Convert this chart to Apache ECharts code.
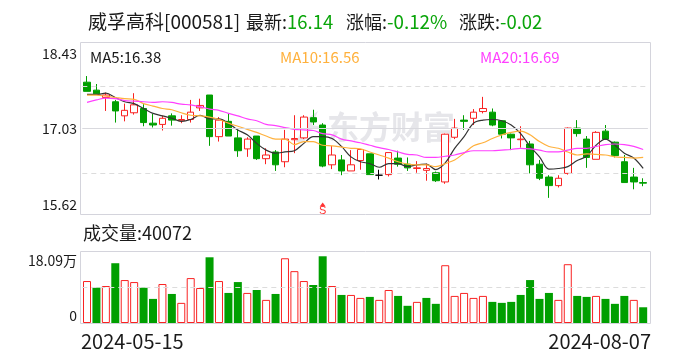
<!DOCTYPE html>
<html><head><meta charset="utf-8">
<script src="https://cdn.jsdelivr.net/npm/echarts@6/dist/echarts.min.js"></script>
<style>html,body{margin:0;padding:0;background:#fff}#c{width:688px;height:360px}</style>
</head><body><div id="c"></div>
<script>
const dates = ['2024-05-15','2024-05-16','2024-05-17','2024-05-20','2024-05-21','2024-05-22','2024-05-23','2024-05-24','2024-05-27','2024-05-28','2024-05-29','2024-05-30','2024-05-31','2024-06-03','2024-06-04','2024-06-05','2024-06-06','2024-06-07','2024-06-11','2024-06-12','2024-06-13','2024-06-14','2024-06-17','2024-06-18','2024-06-19','2024-06-20','2024-06-21','2024-06-24','2024-06-25','2024-06-26','2024-06-27','2024-06-28','2024-07-01','2024-07-02','2024-07-03','2024-07-04','2024-07-05','2024-07-08','2024-07-09','2024-07-10','2024-07-11','2024-07-12','2024-07-15','2024-07-16','2024-07-17','2024-07-18','2024-07-19','2024-07-22','2024-07-23','2024-07-24','2024-07-25','2024-07-26','2024-07-29','2024-07-30','2024-07-31','2024-08-01','2024-08-02','2024-08-05','2024-08-06','2024-08-07'];
const opens  = [17.79,17.66,17.54,17.47,17.24,17.29,17.36,17.12,17.10,17.24,17.16,17.18,17.37,17.58,16.90,17.15,16.88,16.70,16.91,16.54,16.65,16.49,16.85,16.88,17.21,17.09,16.44,16.52,16.34,16.51,16.62,16.27,16.28,16.55,16.45,16.38,16.35,16.31,16.16,16.89,17.17,17.20,17.31,17.30,17.16,16.94,16.85,16.78,16.45,16.24,16.10,16.30,17.04,16.86,16.53,16.99,16.81,16.49,16.24,16.15];
const closes = [17.64,17.60,17.58,17.32,17.33,17.42,17.13,17.09,17.20,17.17,17.18,17.30,17.41,16.90,17.17,16.91,16.67,16.86,16.54,16.60,16.44,16.86,16.87,17.22,17.14,16.42,16.60,16.34,16.44,16.69,16.28,16.27,16.64,16.45,16.39,16.39,16.38,16.18,16.94,17.04,17.15,17.30,17.36,17.09,16.94,16.88,16.86,16.44,16.22,16.10,16.22,17.04,16.95,16.56,16.97,16.86,16.59,16.15,16.16,16.14];
const lows   = [17.64,17.58,17.32,17.13,17.15,17.26,17.07,17.05,17.00,17.08,17.12,17.13,17.32,16.75,16.82,16.91,16.57,16.57,16.52,16.45,16.34,16.40,16.63,16.86,17.09,16.40,16.37,16.27,16.34,16.36,16.28,16.20,16.25,16.41,16.34,16.31,16.18,16.16,16.13,16.86,17.01,17.09,17.28,17.07,16.87,16.68,16.72,16.30,16.19,15.90,16.07,16.28,16.90,16.39,16.53,16.85,16.56,16.15,16.04,16.09];
const highs  = [17.89,17.76,17.62,17.50,17.44,17.61,17.43,17.27,17.24,17.28,17.25,17.50,17.52,17.58,17.22,17.28,17.01,16.89,16.91,16.71,16.68,17.01,17.25,17.25,17.34,17.12,16.75,16.60,16.68,16.69,16.62,16.36,16.64,16.67,16.56,16.50,16.46,16.33,16.95,17.19,17.25,17.35,17.55,17.36,17.17,16.95,17.07,16.83,16.52,16.27,16.27,17.05,17.17,16.91,16.99,17.09,16.82,16.60,16.39,16.22];
const ma5  = [17.59,17.59,17.61,17.54,17.47,17.44,17.36,17.28,17.24,17.20,17.15,17.18,17.25,17.19,17.19,17.12,17.01,16.93,16.79,16.68,16.63,16.65,16.67,16.79,16.90,16.90,16.87,16.74,16.57,16.49,16.46,16.40,16.46,16.46,16.41,16.44,16.45,16.36,16.47,16.71,16.90,17.12,17.17,17.18,17.16,17.09,16.95,16.74,16.57,16.37,16.38,16.41,16.51,16.58,16.76,16.86,16.76,16.63,16.55,16.38];
const ma10 = [17.58,17.58,17.56,17.54,17.52,17.51,17.44,17.40,17.36,17.34,17.29,17.25,17.24,17.22,17.18,17.12,17.07,17.02,16.97,16.91,16.86,16.86,16.77,16.82,16.82,16.76,16.75,16.73,16.71,16.70,16.65,16.60,16.55,16.49,16.45,16.44,16.44,16.41,16.46,16.52,16.63,16.75,16.80,16.87,16.93,16.97,16.99,16.93,16.82,16.74,16.71,16.65,16.60,16.62,16.61,16.60,16.57,16.56,16.55,16.56];
const ma20 = [17.46,17.50,17.53,17.52,17.49,17.48,17.47,17.46,17.47,17.46,17.43,17.42,17.39,17.35,17.33,17.28,17.24,17.19,17.16,17.10,17.08,17.05,17.02,17.01,17.00,16.95,16.93,16.86,16.83,16.80,16.76,16.72,16.69,16.65,16.61,16.60,16.56,16.56,16.58,16.60,16.64,16.67,16.67,16.67,16.68,16.69,16.71,16.70,16.68,16.65,16.65,16.68,16.71,16.71,16.74,16.77,16.78,16.77,16.74,16.69];
const volumes = [106900,90000,94200,152300,109400,104300,90000,61400,99300,74000,51300,114400,89200,167400,106900,76600,104300,76600,84100,58900,74000,164900,132100,106900,96800,170000,94200,71500,71500,63900,66500,58900,84100,69000,43800,53800,63900,48800,147200,69000,76600,63900,69000,53800,51300,53800,71500,109400,61400,76600,58900,149800,69000,66500,69000,61400,48800,69000,58900,40072];
const volumeUp = [1,0,1,0,1,1,0,0,1,0,1,1,1,0,1,0,0,1,0,1,0,1,1,1,0,0,1,0,1,1,0,1,1,0,0,1,0,0,1,1,1,1,1,0,0,0,0,0,0,0,1,1,0,0,1,0,0,0,1,0];
const priceTicks = [15.62,17.03,18.43];
const priceGuides = [16.31,17.03,17.73];
const volumeTicks = [0,180900];
const volumeTickLabels = ['0','18.09万'];
const volumeGuide = [90450];
const signalIndex = [25];
const signalPrice = [15.79];
const signalText = 'S';
const titleParts = [['威孚高科[000581]',88,'#1a1a1a',19],['最新:',246,'#1a1a1a',18],['16.14',287,'#0aa50a',18.5],['涨幅:',346,'#1a1a1a',18],['-0.12%',387,'#0aa50a',18.8],['涨跌:',459,'#1a1a1a',18],['-0.02',500,'#0aa50a',18.5]];
const legendParts = [['MA5:16.38',90,'#1a1a1a'],['MA10:16.56',280,'#ffb13d'],['MA20:16.69',480,'#ff40ff']];
const volumeTitle = '成交量:40072';
const watermark = '东方财富';

const RED='#f92222', GREEN='#009f00', FONT='"Noto Sans CJK SC","Noto Sans",sans-serif';
const txt=(t,x,y,size,fill,align)=>({type:'text',x,y,z:5,style:{text:t,fill,font:size+'px '+FONT,textAlign:align||'left',textVerticalAlign:'middle'}});
const box=(x,y,w,h)=>({type:'rect',z:1,shape:{x,y,width:w,height:h},style:{fill:'none',stroke:'#d4d4dc',lineWidth:1}});
const maLine=(name,data,color)=>({name,type:'line',data,xAxisIndex:0,yAxisIndex:0,smooth:0.35,showSymbol:false,silent:true,z:4,lineStyle:{width:1.2,color}});
const guides=(xi,yi,vals,solidVal)=>({type:'line',xAxisIndex:xi,yAxisIndex:yi,data:[],z:1,silent:true,
  markLine:{silent:true,symbol:'none',label:{show:false},animation:false,
    data:vals.map(v=>({yAxis:v,lineStyle:{color:v===solidVal?'#d9d9de':'#dcdcdc',width:1,type:v===solidVal?'solid':[5,4]}}))}});

const chart=echarts.init(document.getElementById('c'),null,{renderer:'canvas'});
chart.setOption({
  animation:false,backgroundColor:'#fff',
  graphic:{elements:[
    box(80.5,42.5,570,172),box(80.5,251.5,570,72),
    {type:'text',x:327,y:127,z:0,style:{text:watermark,fill:'#e6e6ea',font:'bold 32px '+FONT,textVerticalAlign:'middle'}},
    {type:'polygon',z:0,shape:{points:[[318,111],[308,118],[296,142],[304,142],[310,130],[322,127],[312,125]]},style:{fill:'#e6e6ea'}},
    ...titleParts.map(p=>txt(p[0],p[1],22,p[3],p[2])),
    ...legendParts.map(p=>txt(p[0],p[1],57,15,p[2])),
    txt(volumeTitle,83,233,18,'#1a1a1a'),
    txt(dates[0],81,341,20,'#1a1a1a'),
    txt(dates[dates.length-1],651,341,20,'#1a1a1a','right')
  ]},
  grid:[{left:82.3,width:565.6,top:43,height:172},{left:82.3,width:565.6,top:252,height:71}],
  xAxis:[0,1].map(i=>({type:'category',gridIndex:i,data:dates,boundaryGap:true,axisLine:{show:false},axisTick:{show:false},axisLabel:{show:false},splitLine:{show:false}})),
  yAxis:[
    {type:'value',gridIndex:0,min:priceTicks[0],max:priceTicks[2],position:'left',offset:2.3,
     axisLine:{show:false},axisTick:{show:false},splitLine:{show:false},
     axisLabel:{customValues:priceTicks,margin:3,color:'#1a1a1a',fontSize:14,fontFamily:FONT,
       verticalAlignMinLabel:'bottom',verticalAlignMaxLabel:'top',
       formatter:v=>v===priceTicks[2]?'{t|'+v.toFixed(2)+'}':v===priceTicks[0]?'{b|'+v.toFixed(2)+'}':v.toFixed(2),
       rich:{t:{lineHeight:22,fontSize:14,color:'#1a1a1a',fontFamily:FONT},b:{lineHeight:20,fontSize:14,color:'#1a1a1a',fontFamily:FONT}}}},
    {type:'value',gridIndex:1,min:volumeTicks[0],max:volumeTicks[1],position:'left',offset:2.3,
     axisLine:{show:false},axisTick:{show:false},splitLine:{show:false},
     axisLabel:{customValues:volumeTicks,margin:3,color:'#1a1a1a',fontSize:14,fontFamily:FONT,
       verticalAlignMinLabel:'bottom',verticalAlignMaxLabel:'top',
       formatter:v=>{const s=volumeTickLabels[volumeTicks.indexOf(v)];return v?'{t|'+s+'}':'{b|'+s+'}';},
       rich:{t:{lineHeight:18,fontSize:14,color:'#1a1a1a',fontFamily:FONT},b:{lineHeight:15,fontSize:14,color:'#1a1a1a',fontFamily:FONT}}}}
  ],
  series:[
    guides(0,0,priceGuides,17.03),
    guides(1,1,volumeGuide,-1),
    {name:'K',type:'candlestick',xAxisIndex:0,yAxisIndex:0,barWidth:7,z:3,silent:true,
     data:dates.map((d,i)=>[opens[i],closes[i],lows[i],highs[i]]),
     itemStyle:{color:'#fff',color0:GREEN,borderColor:RED,borderColor0:GREEN,borderColorDoji:'#000',borderWidth:1}},
    maLine('MA5',ma5,'#333'),maLine('MA10',ma10,'#ffb13d'),maLine('MA20',ma20,'#ff40ff'),
    {type:'scatter',xAxisIndex:0,yAxisIndex:0,z:5,silent:true,symbol:'triangle',symbolSize:[6,4],
     data:signalIndex.map((x,i)=>[x,signalPrice[i]]),itemStyle:{color:'#f00'},
     label:{show:true,position:'bottom',distance:-1,formatter:signalText,color:'#f00',fontSize:11,fontFamily:'"Liberation Sans"'}},
    {name:'VOL',type:'bar',xAxisIndex:1,yAxisIndex:1,barWidth:8,z:3,silent:true,
     data:volumes.map((v,i)=>({value:v,itemStyle:volumeUp[i]?{color:'#fff',borderColor:RED,borderWidth:1}:{color:GREEN,borderWidth:0}}))}
  ]
});
</script></body></html>
